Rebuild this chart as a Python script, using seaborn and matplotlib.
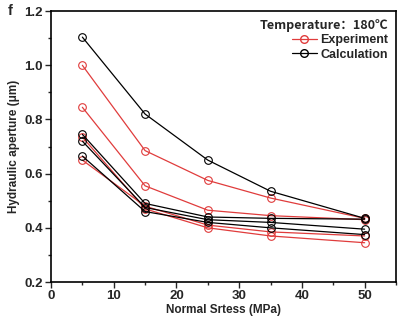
import matplotlib
matplotlib.use("Agg")
import matplotlib.pyplot as plt
from matplotlib.lines import Line2D
from matplotlib.ticker import MultipleLocator
import seaborn as sns
import pandas as pd

stress = [5, 15, 25, 35, 50]

experiment = {
    "E1": [1.00, 0.685, 0.575, 0.510, 0.435],
    "E2": [0.845, 0.555, 0.465, 0.445, 0.430],
    "E3": [0.650, 0.480, 0.410, 0.385, 0.370],
    "E4": [0.735, 0.470, 0.400, 0.370, 0.345],
}
calculation = {
    "C1": [1.104, 0.820, 0.650, 0.535, 0.435],
    "C2": [0.745, 0.490, 0.440, 0.435, 0.432],
    "C3": [0.720, 0.475, 0.430, 0.420, 0.395],
    "C4": [0.665, 0.460, 0.420, 0.400, 0.375],
}

red = "#e03c3c"
black = "#000000"

rows = []
for name, vals in experiment.items():
    for x, y in zip(stress, vals):
        rows.append({"stress": x, "aperture": y, "series": name, "kind": "Experiment"})
for name, vals in calculation.items():
    for x, y in zip(stress, vals):
        rows.append({"stress": x, "aperture": y, "series": name, "kind": "Calculation"})
df = pd.DataFrame(rows)

sns.set_style("ticks")
plt.rcParams["font.family"] = ["Liberation Sans", "DejaVu Sans"]

fig = plt.figure(figsize=(4.0, 3.27), dpi=100)
ax = fig.add_axes([0.1275, 0.1376, 0.8625, 0.8284])

palette = {k: red for k in experiment}
palette.update({k: black for k in calculation})

sns.lineplot(data=df, x="stress", y="aperture", hue="series", palette=palette,
             marker="o", markersize=5.5, markerfacecolor="none", markeredgewidth=0.8,
             linewidth=0.9, legend=False, ax=ax, sort=False)
for ln in ax.lines:
    ln.set_markeredgecolor(ln.get_color())
    ln.set_markerfacecolor("none")

ax.set_xlim(0, 55)
ax.set_ylim(0.2, 1.2)
ax.xaxis.set_major_locator(MultipleLocator(10))
ax.xaxis.set_minor_locator(MultipleLocator(5))
ax.yaxis.set_major_locator(MultipleLocator(0.2))
ax.yaxis.set_minor_locator(MultipleLocator(0.1))
ax.yaxis.set_major_formatter(matplotlib.ticker.FormatStrFormatter("%.1f"))
ax.tick_params(axis="both", which="major", direction="out", length=4, width=1,
               labelsize=9.5, pad=2)
ax.tick_params(axis="both", which="minor", direction="out", length=2.5, width=1)
for lab in ax.get_xticklabels() + ax.get_yticklabels():
    lab.set_fontweight("bold")
for sp in ax.spines.values():
    sp.set_visible(True)
    sp.set_linewidth(1.2)
    sp.set_color("black")

ax.set_xlabel("Normal Srtess (MPa)", fontsize=8.5, fontweight="bold", labelpad=1)
ax.set_ylabel("Hydraulic aperture (\u03bcm)", fontsize=8.5, fontweight="bold", labelpad=3)

handles = [
    Line2D([], [], color=red, marker="o", markerfacecolor="none", markeredgecolor=red,
           markersize=5.5, linewidth=0.9, label="Experiment"),
    Line2D([], [], color=black, marker="o", markerfacecolor="none", markeredgecolor=black,
           markersize=5.5, linewidth=0.9, label="Calculation"),
]
leg = ax.legend(handles=handles, loc="upper right", frameon=False,
                title="Temperature\uff1a180\u2103",
                prop={"weight": "bold", "size": 9},
                title_fontproperties={"weight": "bold", "size": 9, "family": ["Noto Sans CJK SC", "Liberation Sans"]},
                handlelength=2.0, handletextpad=0.3, labelspacing=0.2,
                borderaxespad=0.2, alignment="right")

fig.text(0.02, 0.965, "f", fontsize=10.5, fontweight="bold", va="center")

fig.savefig("out.png", dpi=100)
